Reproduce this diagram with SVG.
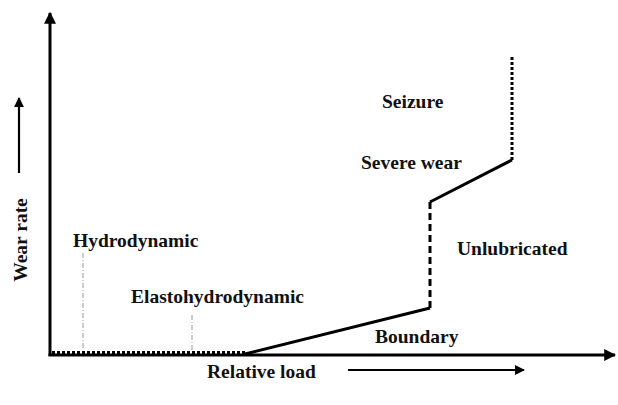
<svg xmlns="http://www.w3.org/2000/svg" width="618" height="405" viewBox="0 0 618 405">
<style>
text{font-family:'Liberation Serif','DejaVu Serif',serif;font-weight:bold;font-size:19.5px;fill:#111}
.ax{stroke:#000;stroke-width:3;fill:none}
.ln{stroke:#000;stroke-width:3;fill:none}
.guide{stroke:#999;stroke-width:1;stroke-dasharray:5 2 1 2;fill:none}
</style>
<defs>
<marker id="ah" viewBox="0 0 10 10" refX="9" refY="5" markerWidth="4" markerHeight="4" orient="auto" markerUnits="strokeWidth">
<path d="M0,0 L10,5 L0,10 z" fill="#000"/>
</marker>
<marker id="ahs" viewBox="0 0 10 10" refX="9" refY="5" markerWidth="4.5" markerHeight="4.5" orient="auto" markerUnits="strokeWidth">
<path d="M0,0 L10,5 L0,10 z" fill="#000"/>
</marker>
</defs>
<g id="axes">
<line class="ax" x1="50" y1="356" x2="50" y2="13" marker-end="url(#ah)"/>
<line class="ax" x1="48.5" y1="355" x2="615" y2="355" marker-end="url(#ah)"/>
</g>
<g id="connectors">
<line class="ln" x1="52" y1="352.5" x2="245" y2="352.5" stroke-dasharray="3 2"/>
<polyline class="ln" points="245,354 430,308"/>
<line class="ln" x1="430" y1="308" x2="430" y2="202" stroke-dasharray="7 4"/>
<polyline class="ln" points="430,202 512,160"/>
<line class="ln" x1="512" y1="160" x2="512" y2="55" stroke-dasharray="3 2"/>
<line class="guide" x1="83" y1="253" x2="83" y2="350"/>
<line class="guide" x1="192" y1="315" x2="192" y2="350"/>
</g>
<g id="labels">
<text x="73" y="247">Hydrodynamic</text>
<text x="131" y="303">Elastohydrodynamic</text>
<text x="375" y="343">Boundary</text>
<text x="457" y="255">Unlubricated</text>
<text x="361" y="169">Severe wear</text>
<text x="382" y="108">Seizure</text>
</g>
<g id="y-label">
<text transform="translate(27,240) rotate(-90)" text-anchor="middle">Wear rate</text>
<line x1="19" y1="173" x2="19" y2="98" stroke="#000" stroke-width="2.2" marker-end="url(#ahs)"/>
</g>
<g id="x-label">
<text x="207" y="378">Relative load</text>
<line x1="348" y1="370" x2="524" y2="370" stroke="#000" stroke-width="2.2" marker-end="url(#ahs)"/>
</g>
</svg>
